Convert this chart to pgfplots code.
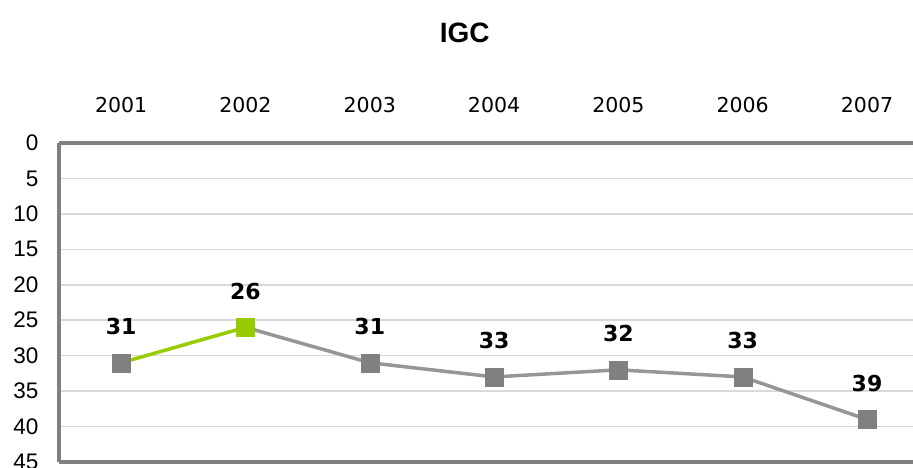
\documentclass[border=0pt]{standalone}
\usepackage{fontspec}
\setmainfont{DejaVu Sans}
\newfontfamily\arial{Liberation Sans}
\usepackage{pgfplots}
\pgfplotsset{compat=1.18}
\definecolor{lgreen}{HTML}{99CC00}
\definecolor{lgray}{HTML}{969696}
\definecolor{mgray}{HTML}{808080}
\definecolor{gridc}{HTML}{D9D9D9}
\begin{document}
\begin{tikzpicture}
\useasboundingbox (-59bp,-6bp) rectangle (854bp,462bp);
\begin{axis}[
  at={(0,0)}, anchor=south west,
  scale only axis, width=854bp, height=319bp,
  xmin=-0.5, xmax=6.37,
  ymin=0, ymax=45, y dir=reverse,
  xtick={0,...,6},
  xticklabels={2001,2002,2003,2004,2005,2006,2007},
  xticklabel pos=right,
  ytick={0,5,...,45},
  major tick length=0pt,
  axis line style={draw=none},
  ymajorgrids, grid style={gridc, line width=1.5bp},
  /pgf/number format/assume math mode=true,
  xticklabel style={font=\fontsize{20.5bp}{23bp}\selectfont, yshift=27bp},
  yticklabel style={font=\arial\fontsize{22.5bp}{25bp}\selectfont, xshift=-17bp},
  clip=false,
  title={\arial\bfseries\fontsize{28bp}{30bp}\selectfont IGC},
  title style={at={(0.475,1)}, anchor=center, yshift=104bp},
]
\draw[mgray, line width=4bp] (rel axis cs:0,0) -- (rel axis cs:0,1);
\draw[mgray, line width=4bp] (rel axis cs:0,0) -- (rel axis cs:1,0);
\draw[mgray, line width=4bp] (rel axis cs:0,1) -- (rel axis cs:1,1);
\addplot[lgray, line width=3.5bp, no marks] coordinates {(1,26)(2,31)(3,33)(4,32)(5,33)(6,39)};
\addplot[lgreen, line width=3.5bp, no marks] coordinates {(0,31)(1,26)};
\addplot[only marks, mark=square*, mark size=9bp, mgray] coordinates {(0,31)(2,31)(3,33)(4,32)(5,33)(6,39)};
\addplot[only marks, mark=square*, mark size=9bp, lgreen] coordinates {(1,26)};
\addplot[only marks, mark=none, nodes near coords, point meta=explicit symbolic,
  every node near coord/.style={anchor=center, yshift=36bp, font=\bfseries\fontsize{22bp}{24bp}\selectfont, text=black}]
  coordinates {(0,31)[31] (1,26)[26] (2,31)[31] (3,33)[33] (4,32)[32] (5,33)[33] (6,39)[39]};
\end{axis}
\end{tikzpicture}
\end{document}
